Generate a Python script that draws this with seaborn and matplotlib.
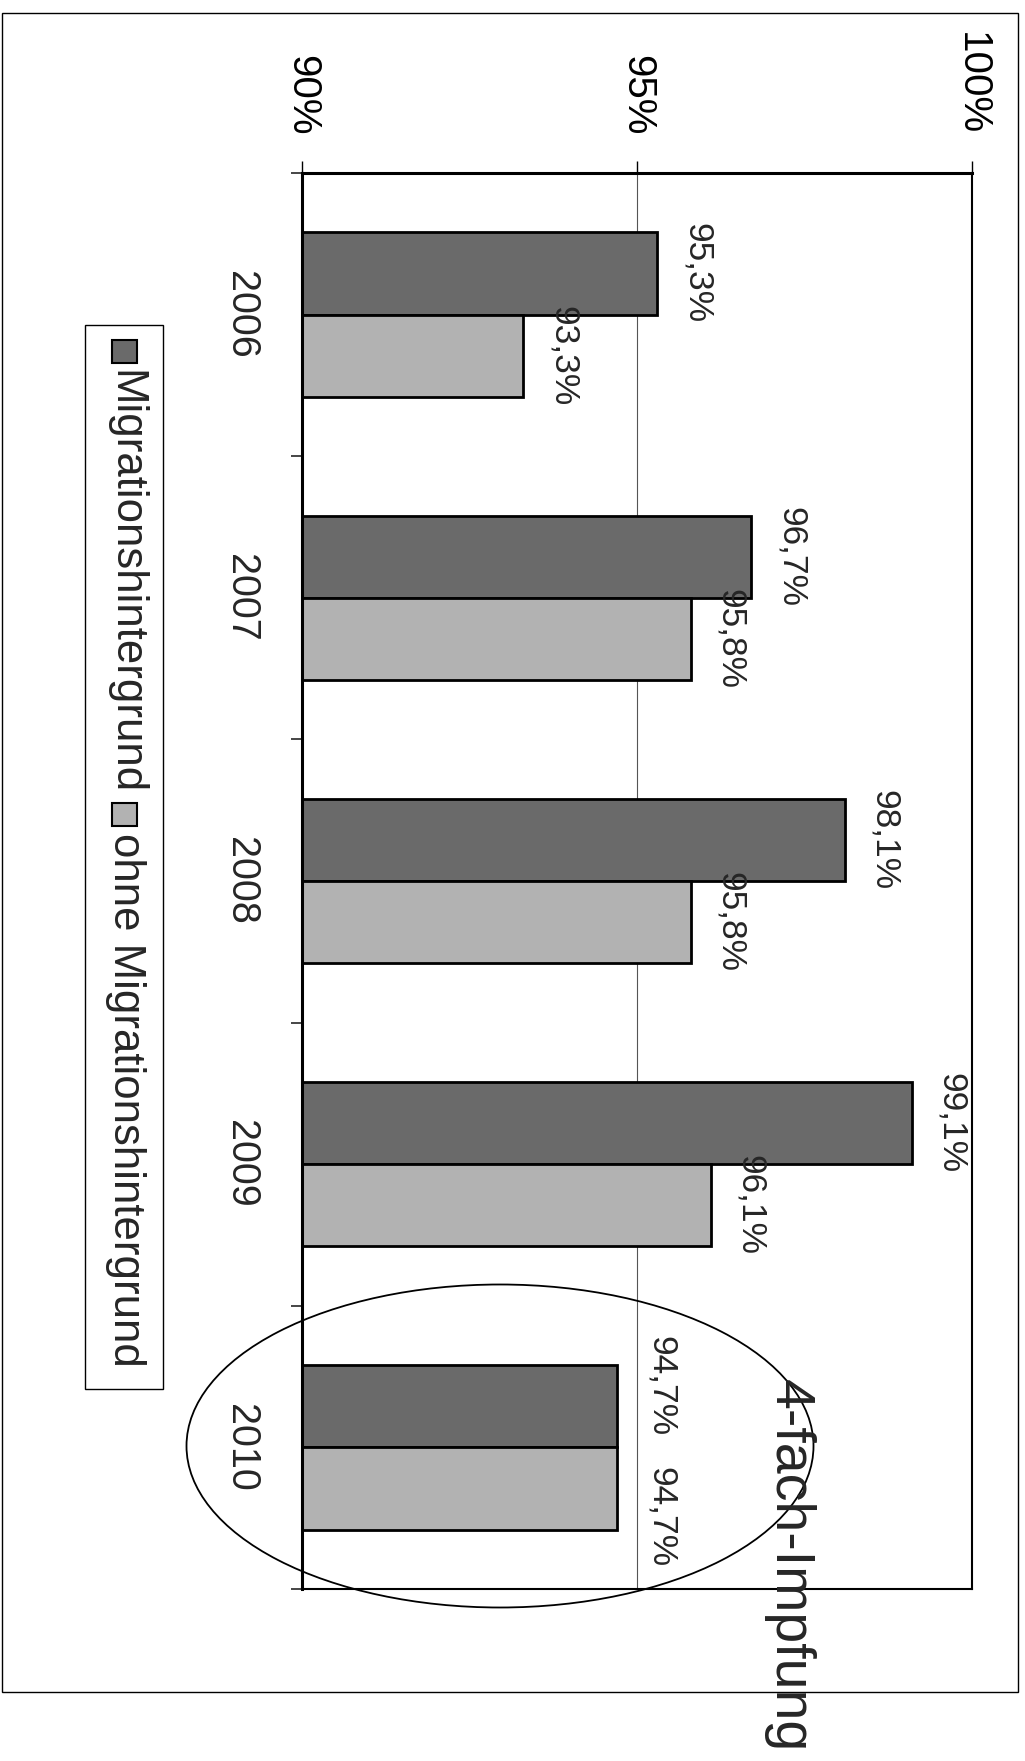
import matplotlib
matplotlib.use("Agg")
import numpy as np
import pandas as pd
import matplotlib.pyplot as plt
from matplotlib.patches import Rectangle, Ellipse
import seaborn as sns

# Daten (4-fach-Impfung, Anteil in %)
jahre = ["2006", "2007", "2008", "2009", "2010"]
mit_migration = [95.3, 96.7, 98.1, 99.1, 94.7]
ohne_migration = [93.3, 95.8, 95.8, 96.1, 94.7]
gruppen = ["Migrationshintergrund", "ohne Migrationshintergrund"]
farben = ["#6a6a6a", "#b2b2b2"]
x_ticks = [90, 95, 100]
titel = "4-fach-Impfung"

W, H = 1025, 1761


def fx(px):
    return px / W


def fy(py):
    return 1 - py / H


df = pd.DataFrame({
    "Jahr": jahre * 2,
    "Quote": mit_migration + ohne_migration,
    "Gruppe": [gruppen[0]] * len(jahre) + [gruppen[1]] * len(jahre),
})

sns.set_style("white")
plt.rcParams["font.family"] = ["Liberation Sans", "DejaVu Sans"]

fig = plt.figure(figsize=(W / 100, H / 100), dpi=100)
ax = fig.add_axes([fx(302), fy(1589), fx(972) - fx(302), fy(173) - fy(1589)])

sns.barplot(data=df, x="Quote", y="Jahr", hue="Gruppe", orient="h",
            palette=farben, saturation=1, width=0.58, edgecolor="black",
            linewidth=2, legend=False, ax=ax)

ax.set_xlim(90, 100)
ax.set_ylim(len(jahre) - 0.5, -0.5)
ax.set_xlabel("")
ax.set_ylabel("")

# Achse oben, Texte gedreht
ax.xaxis.tick_top()
ax.set_xticks(x_ticks)
ax.set_xticklabels([f"{t}%" for t in x_ticks], rotation=-90, fontsize=29)
ax.tick_params(axis="x", direction="out", length=9, width=1, pad=18, colors="black")
ax.set_yticks(range(len(jahre)))
ax.set_yticklabels(jahre, rotation=-90, fontsize=28.5, va="center")
ax.tick_params(axis="y", which="major", length=0, pad=30)
ax.set_yticks(np.arange(-0.5, len(jahre)), minor=True)
ax.tick_params(axis="y", which="minor", direction="out", length=8, width=1.2, left=True)

ax.grid(axis="x", color="#555555", lw=0.8)
ax.grid(axis="y", visible=False)
ax.set_axisbelow(True)
for s in ax.spines.values():
    s.set_color("black")
    s.set_linewidth(1.5)
ax.spines["left"].set_linewidth(2.2)
ax.spines["top"].set_linewidth(2.2)

# Wertebeschriftung
werte = [mit_migration, ohne_migration]
for k, (cont, vals) in enumerate(zip(ax.containers, werte)):
    for i, (bar, v) in enumerate(zip(cont, vals)):
        yc = bar.get_y() + bar.get_height() / 2
        dx = 17
        if abs(mit_migration[i] - ohne_migration[i]) < 0.5:
            yc += -0.07 if k == 0 else 0.10
            dx = 20
        ax.annotate(f"{v:.1f}%".replace(".", ","), xy=(v, yc), xytext=(dx, 0),
                    textcoords="offset points", rotation=-90, ha="left",
                    va="center", fontsize=25.5, annotation_clip=False)

# Legende (gedreht, von Hand)
fig.add_artist(Rectangle((fx(85), fy(1389)), fx(163) - fx(85), fy(325) - fy(1389),
                         transform=fig.transFigure, fill=False, ec="black", lw=1))
leg_y = [[340, 363, 370], [803, 826, 833]]
for (p0, p1, ty), farbe, name in zip(leg_y, farben, gruppen):
    fig.add_artist(Rectangle((fx(112), fy(p1)), fx(137) - fx(112), fy(p0) - fy(p1),
                             transform=fig.transFigure, fc=farbe, ec="black", lw=1.5))
    fig.text(fx(125), fy(ty), name, rotation=-90, ha="center", va="top", fontsize=31.5)

# Ellipse um 2010 und Titel
fig.add_artist(Ellipse((fx(500), fy(1446)), fx(627), 323 / H,
                       transform=fig.transFigure, fill=False, ec="black", lw=1.3))
fig.text(fx(789), fy(1379), titel, rotation=-90, ha="center", va="top", fontsize=40)

# Rahmen um die ganze Grafik
fig.add_artist(Rectangle((fx(2), fy(1692)), fx(1018) - fx(2), fy(13) - fy(1692),
                         transform=fig.transFigure, fill=False, ec="black", lw=1))

fig.savefig("out.png", dpi=100, facecolor="white")
